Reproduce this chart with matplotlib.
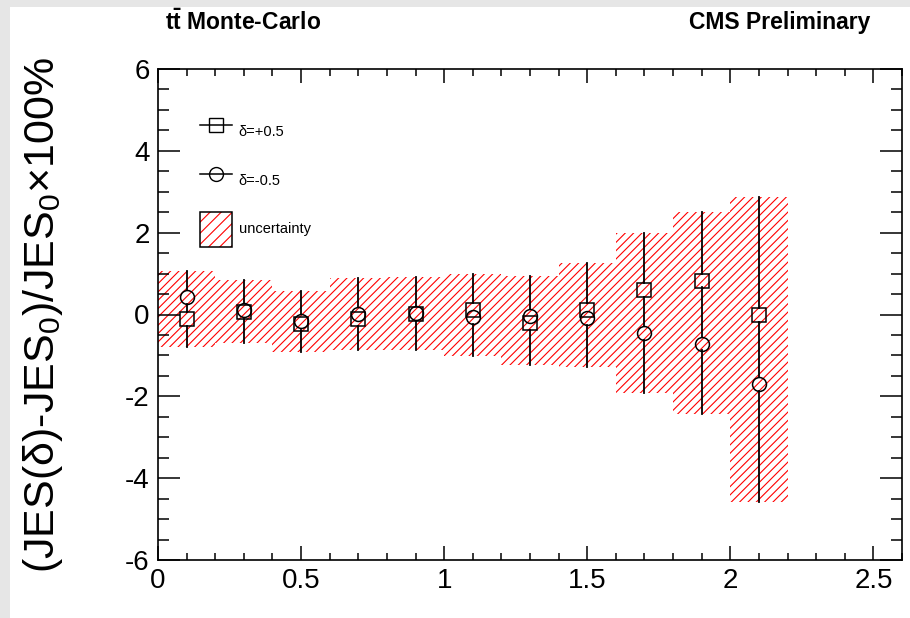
import numpy as np
import matplotlib.pyplot as plt
from matplotlib.patches import Rectangle
from matplotlib.lines import Line2D
from matplotlib.legend_handler import HandlerTuple

plt.rcParams['font.family'] = ['Liberation Sans', 'DejaVu Sans']
plt.rcParams['mathtext.fontset'] = 'custom'
plt.rcParams['mathtext.rm'] = 'Liberation Sans'
plt.rcParams['mathtext.it'] = 'Liberation Sans:italic'
plt.rcParams['mathtext.bf'] = 'Liberation Sans:bold'
plt.rcParams['hatch.linewidth'] = 0.8

# bins of width 0.2 starting at 0
bin_lo = np.array([0.0, 0.2, 0.4, 0.6, 0.8, 1.0, 1.2, 1.4, 1.6, 1.8, 2.0])
bin_w = 0.2
x_center = bin_lo + bin_w / 2

# shift for delta = +0.5 (squares) and delta = -0.5 (circles), in %
plus_half = np.array([-0.12, 0.05, -0.22, -0.12, 0.02, 0.10, -0.20, 0.10, 0.59, 0.83, -0.02])
minus_half = np.array([0.42, 0.10, -0.15, 0.02, 0.03, -0.06, -0.04, -0.08, -0.45, -0.71, -1.69])

# uncertainty (band and error bars), up / down
unc_up = np.array([1.07, 0.85, 0.57, 0.89, 0.91, 1.00, 0.95, 1.25, 2.00, 2.50, 2.88])
unc_down = np.array([0.80, 0.70, 0.92, 0.86, 0.86, 1.02, 1.24, 1.28, 1.93, 2.42, 4.58])

fig = plt.figure(figsize=(9.1, 6.18), dpi=100)
fig.patches.append(Rectangle((0, 1 - 7 / 618), 1, 7 / 618, transform=fig.transFigure,
                             facecolor='#e6e6e6', edgecolor='none', zorder=-10))
fig.patches.append(Rectangle((0, 0), 10 / 910, 1, transform=fig.transFigure,
                             facecolor='#e6e6e6', edgecolor='none', zorder=-10))

ax = fig.add_axes([158 / 910, 1 - 560 / 618, 744 / 910, 491 / 618])
ax.set_xlim(0, 2.6)
ax.set_ylim(-6, 6)

# hatched uncertainty band
ax.bar(bin_lo, unc_up + unc_down, width=bin_w, bottom=-unc_down, align='edge',
       fill=False, hatch='////', edgecolor='red', linewidth=0, zorder=1)

# error bars broken around the open markers (like ROOT)
ms = 10
gap = (ms / 72 * fig.dpi / 2) * (12 / 491)
for i in range(len(x_center)):
    ys = sorted([plus_half[i], minus_half[i]])
    pts = [-unc_down[i]] + ys + [unc_up[i]]
    for a, b in zip(pts[:-1], pts[1:]):
        lo = a if a == pts[0] else a + gap
        hi = b if b == pts[-1] else b - gap
        if hi > lo:
            ax.plot([x_center[i], x_center[i]], [lo, hi], color='black', lw=1.3, zorder=2)

ax.plot(x_center, plus_half, linestyle='none', marker='s', ms=ms, mfc='none',
        mec='black', mew=1.1, zorder=3)
ax.plot(x_center, minus_half, linestyle='none', marker='o', ms=ms, mfc='none',
        mec='black', mew=1.1, zorder=3)

# axis styling
ax.set_xticks(np.arange(0, 2.6, 0.5))
ax.set_xticks(np.arange(0, 2.61, 0.1), minor=True)
ax.set_yticks(np.arange(-6, 6.1, 2))
ax.set_yticks(np.arange(-6, 6.1, 0.5), minor=True)
ax.set_xticklabels(['0', '0.5', '1', '1.5', '2', '2.5'])
ax.set_yticklabels(['-6', '-4', '-2', '0', '2', '4', '6'])
ax.tick_params(axis='x', which='major', direction='in', length=10, width=1.1,
               top=True, labelsize=20, pad=6)
ax.tick_params(axis='x', which='minor', direction='in', length=5, width=1.1, top=True)
ax.tick_params(axis='y', which='major', direction='in', length=16, width=1.1,
               right=True, labelsize=20, pad=6)
ax.tick_params(axis='y', which='minor', direction='in', length=8, width=1.1, right=True)
for s in ax.spines.values():
    s.set_linewidth(1.2)

ax.set_ylabel('(JES(δ)-JES$_0$)/JES$_0$×100%', fontsize=31)
ax.yaxis.set_label_coords(-0.125, 0.5)

# legend
h_plus = Line2D([], [], color='black', lw=1.1, marker='s', ms=ms, mfc='none', mec='black')
h_minus = Line2D([], [], color='black', lw=1.1, marker='o', ms=ms, mfc='none', mec='black')
h_band = (Rectangle((0, 0), 1, 1, fill=False, hatch='///', edgecolor='red', linewidth=0),
          Rectangle((0, 0), 1, 1, fill=False, edgecolor='black', linewidth=1.1))
ax.legend([h_plus, h_minus, h_band], ['δ=+0.5', 'δ=-0.5', 'uncertainty'],
          handler_map={tuple: HandlerTuple(ndivide=1, pad=0)},
          loc='upper left', bbox_to_anchor=(42 / 744, 0.908), frameon=False,
          fontsize=10.5, handlelength=2.16, handleheight=3.3, labelspacing=0.96,
          handletextpad=0.5, borderpad=0, borderaxespad=0)

fig.text(165 / 910, 1 - 22 / 618, r'$\mathbf{t\bar{t}}$ Monte-Carlo', fontsize=16.5,
         fontweight='bold', ha='left', va='center')
fig.text(870 / 910, 1 - 22 / 618, 'CMS Preliminary', fontsize=16.5, fontweight='bold',
         ha='right', va='center')

fig.savefig('out.png', dpi=100)
